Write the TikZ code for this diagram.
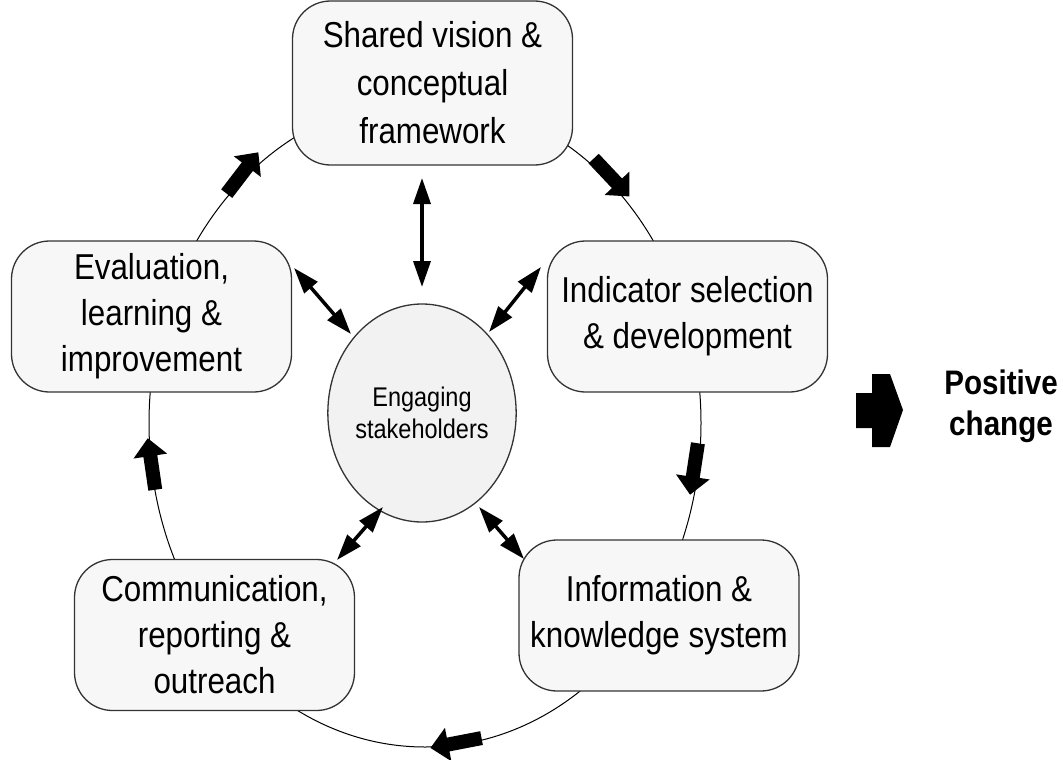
\documentclass[tikz,border=0pt]{standalone}
\usepackage{fontspec}
\setmainfont{Liberation Sans}[FakeStretch=0.87]
\usetikzlibrary{shapes.geometric,arrows.meta}
\definecolor{boxfill}{HTML}{F7F7F7}
\definecolor{hubfill}{HTML}{F2F2F2}
\definecolor{boxline}{HTML}{333333}
\begin{document}
\begin{tikzpicture}[x=1pt,y=-1pt,
  stepbox/.style={draw=boxline, fill=boxfill, line width=1.3pt, rounded corners=38pt,
    minimum width=280pt, minimum height=151pt, align=center, inner sep=0pt,
    font=\fontsize{36pt}{46pt}\selectfont},
  hub/.style={ellipse, draw=boxline, fill=hubfill, line width=1.3pt,
    minimum width=180pt, minimum height=218pt, align=center, inner sep=0pt,
    font=\fontsize{27pt}{32pt}\selectfont},
  link/.style={line width=3.5pt, {Triangle[length=26pt,width=17pt]}-{Triangle[length=26pt,width=17pt]}},
  flow/.pic={\fill (-26,-7) -- (8,-7) -- (8,-17) -- (26,0) -- (8,17) -- (8,7) -- (-26,7) -- cycle;}
]
\useasboundingbox (0,0) rectangle (1063,760);
% outer cycle
\draw[line width=1pt] (425,423) ellipse [x radius=276, y radius=324];
% steps
\node[stepbox, minimum height=164pt, font=\fontsize{36pt}{48pt}\selectfont] (vision) at (432.5,83) {Shared vision \&\\conceptual\\framework};
\node[stepbox] (indicator) at (687.5,316.5) {Indicator selection\\\& development};
\node[stepbox] (info) at (659,615.5) {Information \&\\knowledge system};
\node[stepbox] (comm) at (214.5,635) {Communication,\\reporting \&\\outreach};
\node[stepbox] (eval) at (151.5,316.5) {Evaluation,\\learning \&\\improvement};
\node[hub] (hub) at (422,413) {Engaging\\stakeholders};
% link ends
\coordinate (l1a) at (422,178); \coordinate (l1b) at (422,287);
\coordinate (l2a) at (294,268); \coordinate (l2b) at (351,334);
\coordinate (l3a) at (541,267); \coordinate (l3b) at (489,332);
\coordinate (l4a) at (383,507); \coordinate (l4b) at (337,560);
\coordinate (l5a) at (479,507); \coordinate (l5b) at (524,559);
\draw[link] (l1a) -- (l1b);
\draw[link] (l2a) -- (l2b);
\draw[link] (l3a) -- (l3b);
\draw[link] (l4a) -- (l4b);
\draw[link] (l5a) -- (l5b);
% flow arrows
\pic[rotate=52.6] at (242.5,173) {flow};
\pic[rotate=-46.7] at (611.5,177.5) {flow};
\pic[rotate=-98.7] at (694,469) {flow};
\pic[rotate=190.9] at (456,743) {flow};
\pic[rotate=98.3] at (151.5,464) {flow};
% positive change
\fill (856,393) -- (872,393) -- (872,374) -- (890,374) -- (903,410) -- (890,447)
  -- (872,447) -- (872,428) -- (856,428) -- cycle;
\node[font=\bfseries\fontsize{34pt}{41pt}\selectfont, align=center] (pc) at (1001,406) {Positive\\change};
\end{tikzpicture}
\end{document}
